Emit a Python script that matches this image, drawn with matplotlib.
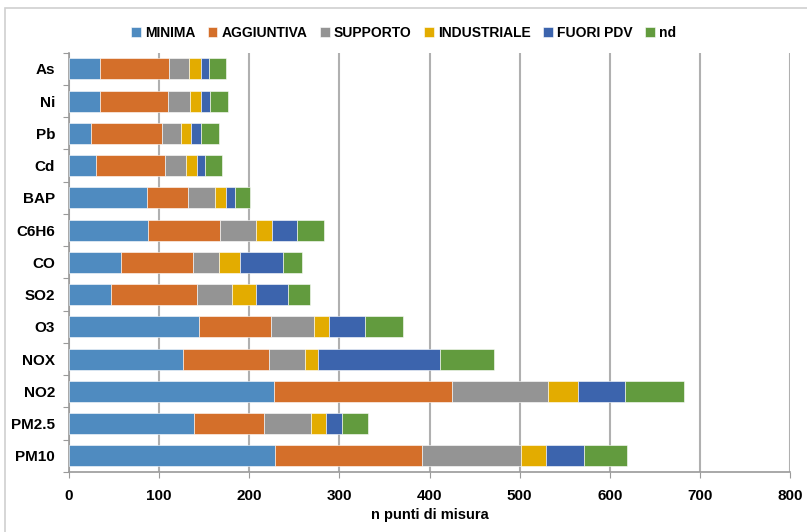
import numpy as np
import matplotlib.pyplot as plt
from matplotlib.patches import Rectangle

# inquinanti, dall'alto verso il basso
inquinanti = ["As", "Ni", "Pb", "Cd", "BAP", "C6H6", "CO", "SO2", "O3",
              "NOX", "NO2", "PM2.5", "PM10"]

# n punti di misura per tipologia
minima      = [34, 34, 24, 30, 86, 88, 58, 47, 144, 126, 227, 139, 229]
aggiuntiva  = [77, 76, 79, 76, 46, 79, 80, 95, 80, 96, 198, 77, 163]
supporto    = [22, 24, 21, 24, 30, 40, 28, 39, 48, 40, 107, 53, 110]
industriale = [13, 13, 11, 12, 12, 18, 24, 26, 16, 14, 33, 16, 27]
fuori_pdv   = [9, 9, 11, 9, 10, 28, 47, 36, 40, 136, 52, 18, 42]
nd          = [19, 20, 20, 19, 17, 30, 21, 24, 43, 59, 65, 29, 48]

serie = [
    ("MINIMA", minima, "#4f8bc0"),
    ("AGGIUNTIVA", aggiuntiva, "#d46f2a"),
    ("SUPPORTO", supporto, "#949494"),
    ("INDUSTRIALE", industriale, "#e3ac00"),
    ("FUORI PDV", fuori_pdv, "#3c64ad"),
    ("nd", nd, "#629b3e"),
]

plt.rcParams["font.family"] = ["Liberation Sans Narrow", "Liberation Sans", "DejaVu Sans"]
plt.rcParams["font.weight"] = "bold"
plt.rcParams["axes.labelweight"] = "bold"

fig = plt.figure(figsize=(8.07, 5.32), dpi=100)
ax = fig.add_axes([0.0855, 0.1128, 0.8935, 0.7882])

y = np.arange(len(inquinanti))
left = np.zeros(len(inquinanti))
for nome, valori, colore in serie:
    ax.barh(y, valori, left=left, height=0.65, color=colore, label=nome,
            edgecolor="white", linewidth=0.4, zorder=3)
    left += np.array(valori)

ax.set_xlim(0, 800)
ax.set_ylim(len(inquinanti) - 0.5, -0.5)

# griglia verticale
ax.set_xticks(np.arange(0, 801, 100))
ax.grid(axis="x", color="#b0b0b0", linewidth=1.5, zorder=0)
ax.tick_params(axis="x", direction="out", length=4, color="#9a9a9a",
               labelsize=11, pad=8)

# tick dell'asse y sui bordi delle categorie, etichette al centro
ax.set_yticks(np.arange(-0.5, len(inquinanti), 1.0))
ax.set_yticklabels([])
ax.tick_params(axis="y", which="major", direction="out", length=4, color="#9a9a9a")
ax.set_yticks(y, minor=True)
ax.set_yticklabels(inquinanti, minor=True)
ax.tick_params(axis="y", which="minor", length=0, labelsize=11, pad=10)

for lato in ["top", "right"]:
    ax.spines[lato].set_visible(False)
ax.spines["left"].set_color("#9a9a9a")
ax.spines["bottom"].set_color("#9a9a9a")
ax.spines["left"].set_linewidth(1.2)
ax.spines["bottom"].set_linewidth(1.2)

ax.set_xlabel("n punti di misura", fontsize=10.5, labelpad=4)

fig.legend(loc="upper center", bbox_to_anchor=(0.5, 0.975), ncol=6,
           frameon=False, fontsize=10, handlelength=0.7, handleheight=0.7,
           handletextpad=0.3, columnspacing=0.9)

# cornice dell'area grafico
fig.patches.append(Rectangle((0.006, -0.01), 1.1, 0.995, transform=fig.transFigure,
                             fill=False, edgecolor="#d0d0d0", linewidth=1.2))

fig.savefig("out.png", dpi=100)
